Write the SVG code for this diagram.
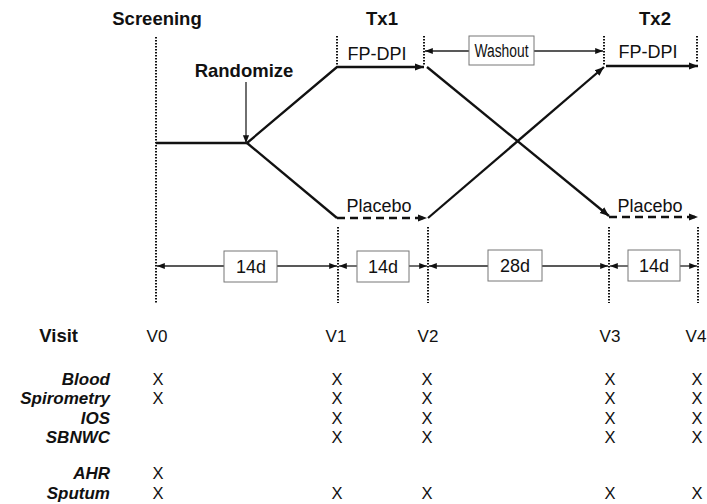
<svg xmlns="http://www.w3.org/2000/svg" width="707" height="504" viewBox="0 0 707 504">
<style>
text{font-family:"Liberation Sans",Arial,sans-serif;fill:#111}
.b{font-weight:bold;font-size:18.5px}
.n{font-size:18px}
.v{font-size:17px;text-anchor:middle}
.r{font-weight:bold;font-style:italic;font-size:17px;text-anchor:end}
.m{text-anchor:middle}
.dot{stroke:#111;stroke-width:2;stroke-dasharray:1.6 1.4;fill:none}
.thick{stroke:#111;stroke-width:2.3;fill:none}
.thin{stroke:#222;stroke-width:1.3;fill:none}
.box{fill:#fff;stroke:#777;stroke-width:1}
.x{font-size:16.5px;text-anchor:middle}
</style>
<defs>
<marker id="ah" viewBox="0 0 10 10" refX="10" refY="5" markerWidth="4" markerHeight="4" orient="auto-start-reverse" markerUnits="strokeWidth"><path d="M0,1 L10,5 L0,9 z" fill="#111"/></marker>
<marker id="as" viewBox="0 0 10 10" refX="10" refY="5" markerWidth="6" markerHeight="6" orient="auto-start-reverse" markerUnits="strokeWidth"><path d="M0,1 L10,5 L0,9 z" fill="#111"/></marker>
</defs>
<g id="headers">
<text class="b m" x="157" y="25">Screening</text>
<text class="b m" x="382" y="25">Tx1</text>
<text class="b m" x="655" y="25">Tx2</text>
</g>
<g id="gridlines">
<line class="dot" x1="156" y1="37" x2="156" y2="303"/>
<line class="dot" x1="337" y1="36" x2="337" y2="66"/>
<line class="dot" x1="424" y1="36" x2="424" y2="66"/>
<line class="dot" x1="604" y1="36" x2="604" y2="65"/>
<line class="dot" x1="697" y1="36" x2="697" y2="62"/>
<line class="dot" x1="338" y1="227" x2="338" y2="303"/>
<line class="dot" x1="428" y1="227" x2="428" y2="303"/>
<line class="dot" x1="609" y1="227" x2="609" y2="303"/>
<line class="dot" x1="698" y1="227" x2="698" y2="303"/>
</g>
<g id="connectors">
<polyline class="thick" points="156,143 247,143 337,67 424,67" marker-end="url(#ah)"/>
<polyline class="thick" points="247,143 337,218"/>
<line class="thick" x1="337" y1="218" x2="427" y2="218" stroke-dasharray="8 5" marker-end="url(#ah)"/>
<line class="thick" x1="427" y1="67" x2="609" y2="216" marker-end="url(#ah)"/>
<line class="thick" x1="428" y1="218" x2="604" y2="67" marker-end="url(#ah)"/>
<line class="thick" x1="606" y1="66" x2="698" y2="66" marker-end="url(#ah)"/>
<line class="thick" x1="609" y1="217" x2="698" y2="217" stroke-dasharray="8 5" marker-end="url(#ah)"/>
<line class="thin" x1="246" y1="82" x2="246" y2="143" marker-end="url(#as)"/>
<line class="thin" x1="469" y1="51" x2="425" y2="51" marker-end="url(#as)"/>
<line class="thin" x1="534" y1="51" x2="603" y2="51" marker-end="url(#as)"/>
<line class="thin" x1="224" y1="266" x2="157" y2="266" marker-end="url(#as)"/>
<line class="thin" x1="277" y1="266" x2="337" y2="266" marker-end="url(#as)"/>
<line class="thin" x1="357" y1="266" x2="339" y2="266" marker-end="url(#as)"/>
<line class="thin" x1="409" y1="266" x2="427" y2="266" marker-end="url(#as)"/>
<line class="thin" x1="488" y1="266" x2="429" y2="266" marker-end="url(#as)"/>
<line class="thin" x1="542" y1="266" x2="608" y2="266" marker-end="url(#as)"/>
<line class="thin" x1="628" y1="266" x2="610" y2="266" marker-end="url(#as)"/>
<line class="thin" x1="680" y1="266" x2="697" y2="266" marker-end="url(#as)"/>
</g>
<g id="randomize"><text class="b m" x="244" y="77">Randomize</text></g>
<g id="fp1"><text class="n m" x="377" y="60">FP-DPI</text></g>
<g id="fp2"><text class="n m" x="648" y="58">FP-DPI</text></g>
<g id="pl1"><text class="n m" x="379" y="212">Placebo</text></g>
<g id="pl2"><text class="n m" x="650" y="212">Placebo</text></g>
<g id="washout"><rect class="box" x="469" y="36" width="65" height="29"/><text class="n m" x="501.5" y="57" textLength="54" lengthAdjust="spacingAndGlyphs">Washout</text></g>
<g id="d1"><rect class="box" x="224" y="251" width="53" height="31"/><text class="n m" x="251" y="273">14d</text></g>
<g id="d2"><rect class="box" x="357" y="251" width="52" height="31"/><text class="n m" x="383" y="273">14d</text></g>
<g id="d3"><rect class="box" x="488" y="250" width="54" height="31"/><text class="n m" x="515" y="272">28d</text></g>
<g id="d4"><rect class="box" x="628" y="250" width="52" height="31"/><text class="n m" x="654" y="272">14d</text></g>
<g id="table">
<text class="b" x="78" y="342" text-anchor="end">Visit</text>
<text class="v" x="157" y="342">V0</text>
<text class="v" x="336" y="342">V1</text>
<text class="v" x="428" y="342">V2</text>
<text class="v" x="610" y="342">V3</text>
<text class="v" x="696" y="342">V4</text>
<text class="r" x="110" y="385">Blood</text>
<text class="r" x="110" y="404">Spirometry</text>
<text class="r" x="110" y="424">IOS</text>
<text class="r" x="110" y="443">SBNWC</text>
<text class="r" x="110" y="479">AHR</text>
<text class="r" x="110" y="499">Sputum</text>
<text class="x" x="158" y="385">X</text>
<text class="x" x="158" y="404">X</text>
<text class="x" x="158" y="479">X</text>
<text class="x" x="158" y="499">X</text>
<text class="x" x="337" y="385">X</text>
<text class="x" x="337" y="404">X</text>
<text class="x" x="337" y="424">X</text>
<text class="x" x="337" y="443">X</text>
<text class="x" x="337" y="499">X</text>
<text class="x" x="427" y="385">X</text>
<text class="x" x="427" y="404">X</text>
<text class="x" x="427" y="424">X</text>
<text class="x" x="427" y="443">X</text>
<text class="x" x="427" y="499">X</text>
<text class="x" x="610" y="385">X</text>
<text class="x" x="610" y="404">X</text>
<text class="x" x="610" y="424">X</text>
<text class="x" x="610" y="443">X</text>
<text class="x" x="610" y="499">X</text>
<text class="x" x="697" y="385">X</text>
<text class="x" x="697" y="404">X</text>
<text class="x" x="697" y="424">X</text>
<text class="x" x="697" y="443">X</text>
<text class="x" x="697" y="499">X</text>
</g>
</svg>
